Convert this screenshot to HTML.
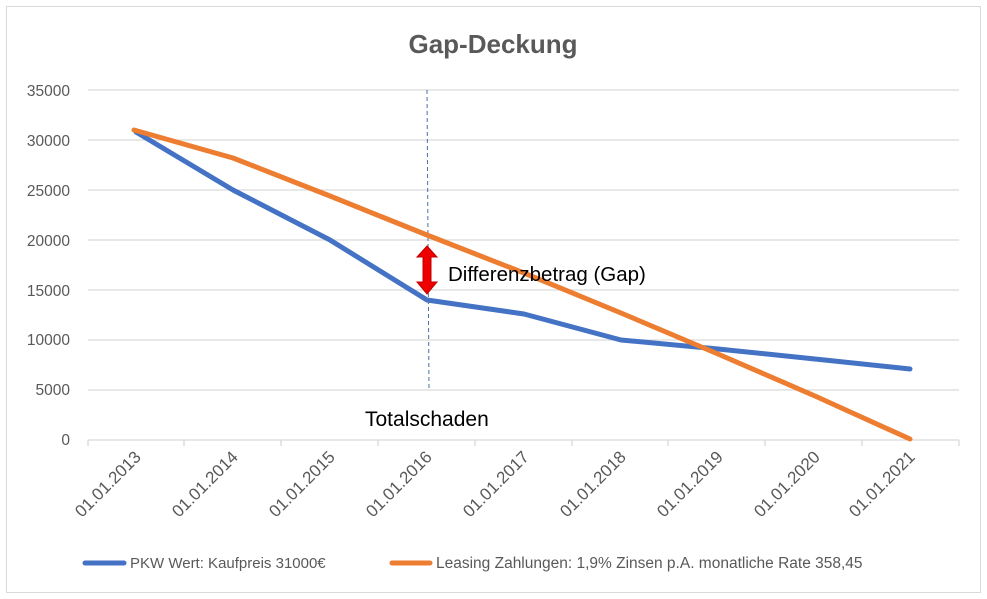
<!DOCTYPE html>
<html><head><meta charset="utf-8"><style>
html,body{margin:0;padding:0;background:#fff;}
svg{display:block;font-family:"Liberation Sans",sans-serif;}
</style></head><body>
<svg width="987" height="599" viewBox="0 0 987 599" xmlns="http://www.w3.org/2000/svg">
<rect x="0" y="0" width="987" height="599" fill="#fff"/>
<rect x="6.5" y="6.5" width="974" height="586" fill="none" stroke="#d9d9d9" stroke-width="1"/>
<text x="493" y="53" text-anchor="middle" font-size="26" font-weight="bold" fill="#595959">Gap-Deckung</text>
<g stroke="#d9d9d9" stroke-width="1.3">
<line x1="88" x2="959" y1="90" y2="90"/><line x1="88" x2="959" y1="140" y2="140"/>
<line x1="88" x2="959" y1="190" y2="190"/><line x1="88" x2="959" y1="240" y2="240"/>
<line x1="88" x2="959" y1="290" y2="290"/><line x1="88" x2="959" y1="340" y2="340"/>
<line x1="88" x2="959" y1="390" y2="390"/><line x1="88" x2="959" y1="440" y2="440"/>
<line x1="88" x2="88" y1="440" y2="446"/><line x1="184" x2="184" y1="440" y2="446"/>
<line x1="281" x2="281" y1="440" y2="446"/><line x1="378" x2="378" y1="440" y2="446"/>
<line x1="475" x2="475" y1="440" y2="446"/><line x1="572" x2="572" y1="440" y2="446"/>
<line x1="668" x2="668" y1="440" y2="446"/><line x1="765" x2="765" y1="440" y2="446"/>
<line x1="862" x2="862" y1="440" y2="446"/><line x1="959" x2="959" y1="440" y2="446"/>
</g>
<g font-size="15.5" fill="#595959" text-anchor="end">
<text x="70" y="96">35000</text><text x="70" y="146">30000</text><text x="70" y="196">25000</text>
<text x="70" y="246">20000</text><text x="70" y="296">15000</text><text x="70" y="345">10000</text>
<text x="70" y="395">5000</text><text x="70" y="445">0</text>
</g>
<g font-size="17" fill="#595959" text-anchor="end">
<text transform="translate(142,458) rotate(-45)">01.01.2013</text>
<text transform="translate(239,458) rotate(-45)">01.01.2014</text>
<text transform="translate(336,458) rotate(-45)">01.01.2015</text>
<text transform="translate(433,458) rotate(-45)">01.01.2016</text>
<text transform="translate(530,458) rotate(-45)">01.01.2017</text>
<text transform="translate(627,458) rotate(-45)">01.01.2018</text>
<text transform="translate(724,458) rotate(-45)">01.01.2019</text>
<text transform="translate(821,458) rotate(-45)">01.01.2020</text>
<text transform="translate(916,458) rotate(-45)">01.01.2021</text>
</g>
<line x1="427" y1="90" x2="429" y2="390" stroke="#4a6fa5" stroke-width="1" stroke-dasharray="4,3"/>
<polyline points="136,132 233,190 330,240 427,300 524,314 621,340 718,349 815,359 910,369" fill="none" stroke="#4472c4" stroke-width="5" stroke-linejoin="round" stroke-linecap="round"/>
<polyline points="134,130 233,158 330,196 427,235 524,273 621,313 718,354 815,396 910,439" fill="none" stroke="#ed7d31" stroke-width="5" stroke-linejoin="round" stroke-linecap="round"/>
<path d="M427,246 L437,257 L431,257 L431,282 L437,282 L427,294 L417,282 L423,282 L423,257 L417,257 Z" fill="#ee0000" stroke="#c00000" stroke-width="1"/>
<text x="448" y="281" font-size="20.5" fill="#000">Differenzbetrag (Gap)</text>
<text x="365" y="426" font-size="21" fill="#000">Totalschaden</text>
<line x1="85" y1="563" x2="124" y2="563" stroke="#4472c4" stroke-width="5" stroke-linecap="round"/>
<text x="130" y="568" font-size="15" fill="#595959">PKW Wert: Kaufpreis 31000€</text>
<line x1="392" y1="563" x2="430" y2="563" stroke="#ed7d31" stroke-width="5" stroke-linecap="round"/>
<text x="436" y="568" font-size="15.5" fill="#595959">Leasing Zahlungen: 1,9% Zinsen p.A. monatliche Rate 358,45</text>
</svg>
</body></html>
